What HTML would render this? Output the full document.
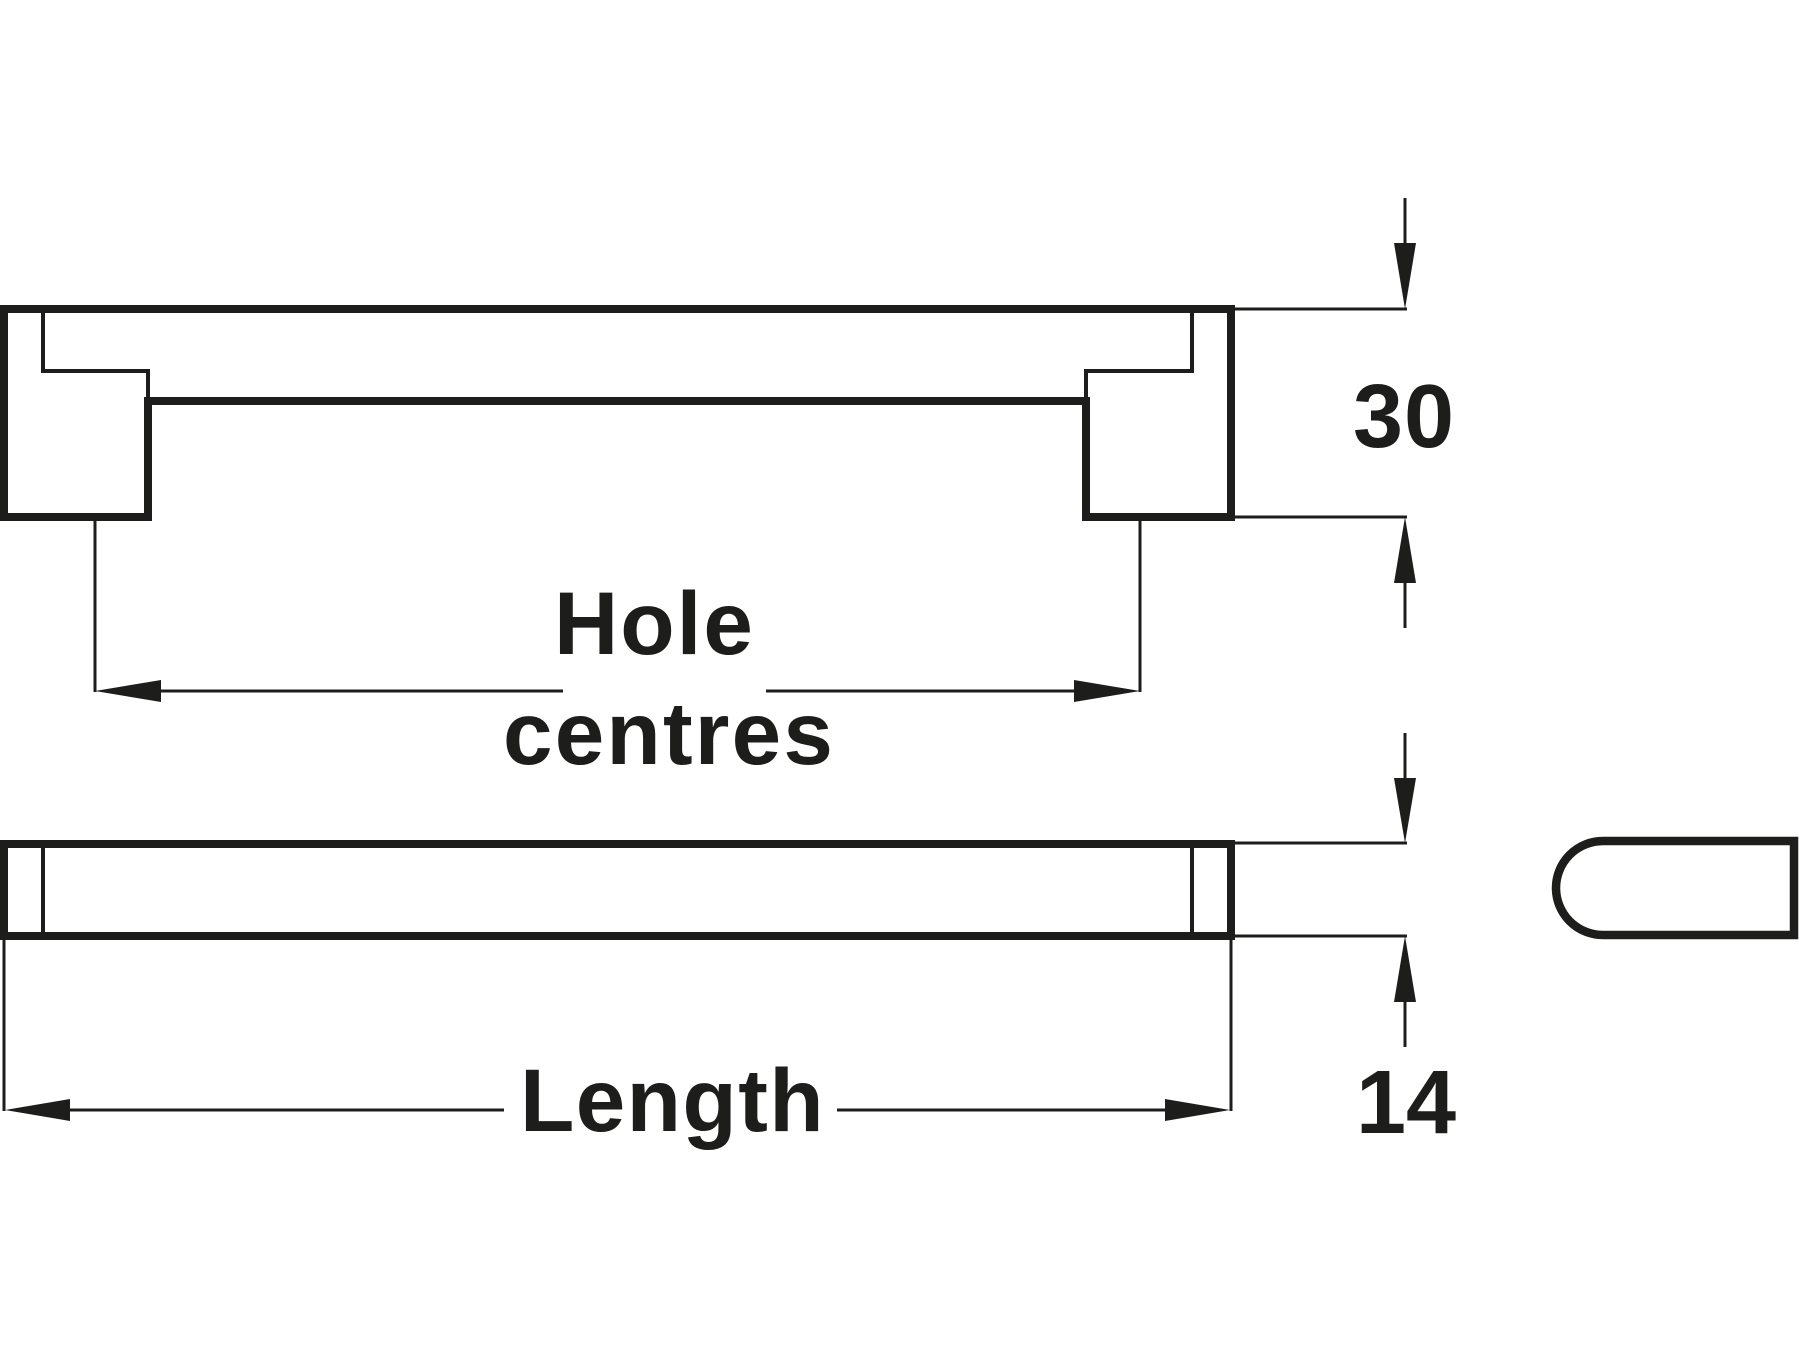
<!DOCTYPE html>
<html>
<head>
<meta charset="utf-8">
<style>
  html, body { margin: 0; padding: 0; background: #ffffff; }
  body { width: 1800px; height: 1350px; overflow: hidden; }
  svg { display: block; }
  text { font-family: "Liberation Sans", Arial, sans-serif; font-weight: bold; fill: #1d1d1b; }
</style>
</head>
<body>
<svg width="1800" height="1350" viewBox="0 0 1800 1350" xmlns="http://www.w3.org/2000/svg">
  <rect x="0" y="0" width="1800" height="1350" fill="#ffffff"/>

  <!-- ===== Top handle (front view) ===== -->
  <path d="M148 401 L148 517 L4 517 L4 309 L1231 309 L1231 517 L1086 517 L1086 401 Z"
        fill="none" stroke="#1d1d1b" stroke-width="8" stroke-linejoin="miter"/>
  <path d="M43 309 V371 H148 V401 M1192 309 V371 H1086 V401"
        fill="none" stroke="#1d1d1b" stroke-width="4" stroke-linejoin="miter"/>

  <!-- Hole centres extension lines -->
  <g stroke="#1d1d1b" stroke-width="3" fill="none">
    <line x1="95" y1="517" x2="95" y2="692"/>
    <line x1="1140" y1="517" x2="1140" y2="692"/>
    <line x1="150" y1="691" x2="563" y2="691"/>
    <line x1="766" y1="691" x2="1085" y2="691"/>
  </g>
  <polygon points="95,691 161,680 161,702" fill="#1d1d1b"/>
  <polygon points="1140,691 1074,680 1074,702" fill="#1d1d1b"/>

  <text x="554" y="654" font-size="89" letter-spacing="2">Hole</text>
  <text x="503" y="764" font-size="89" letter-spacing="2.2">centres</text>

  <!-- 30 dimension -->
  <g stroke="#1d1d1b" stroke-width="3" fill="none">
    <line x1="1231" y1="309" x2="1407" y2="309"/>
    <line x1="1231" y1="517" x2="1407" y2="517"/>
    <line x1="1405" y1="198" x2="1405" y2="250"/>
    <line x1="1405" y1="576" x2="1405" y2="628"/>
  </g>
  <polygon points="1405,309 1394,243 1416,243" fill="#1d1d1b"/>
  <polygon points="1405,517 1394,583 1416,583" fill="#1d1d1b"/>
  <text x="1353" y="447" font-size="90" letter-spacing="1">30</text>

  <!-- ===== Bottom handle (top view) ===== -->
  <rect x="4" y="844" width="1227" height="92" fill="none" stroke="#1d1d1b" stroke-width="8" stroke-linejoin="miter"/>
  <g stroke="#1d1d1b" stroke-width="4">
    <line x1="43" y1="844" x2="43" y2="936"/>
    <line x1="1192" y1="844" x2="1192" y2="936"/>
  </g>

  <!-- 14 dimension -->
  <g stroke="#1d1d1b" stroke-width="3" fill="none">
    <line x1="1231" y1="843" x2="1407" y2="843"/>
    <line x1="1231" y1="936" x2="1407" y2="936"/>
    <line x1="1405" y1="733" x2="1405" y2="785"/>
    <line x1="1405" y1="995" x2="1405" y2="1047"/>
  </g>
  <polygon points="1405,843 1394,778 1416,778" fill="#1d1d1b"/>
  <polygon points="1405,936 1394,1002 1416,1002" fill="#1d1d1b"/>
  <text x="1356" y="1133" font-size="90">14</text>

  <!-- Length dimension -->
  <g stroke="#1d1d1b" stroke-width="3" fill="none">
    <line x1="4" y1="936" x2="4" y2="1111"/>
    <line x1="1231" y1="936" x2="1231" y2="1111"/>
    <line x1="60" y1="1110" x2="504" y2="1110"/>
    <line x1="837" y1="1110" x2="1175" y2="1110"/>
  </g>
  <polygon points="5,1110 70,1099 70,1121" fill="#1d1d1b"/>
  <polygon points="1230,1110 1165,1099 1165,1121" fill="#1d1d1b"/>
  <text x="520" y="1131" font-size="89" letter-spacing="1.4">Length</text>

  <!-- ===== End view ===== -->
  <path d="M1794 841 H1603 A47 47 0 0 0 1603 935 H1794 Z"
        fill="none" stroke="#1d1d1b" stroke-width="8.5" stroke-linejoin="miter"/>
</svg>
</body>
</html>
